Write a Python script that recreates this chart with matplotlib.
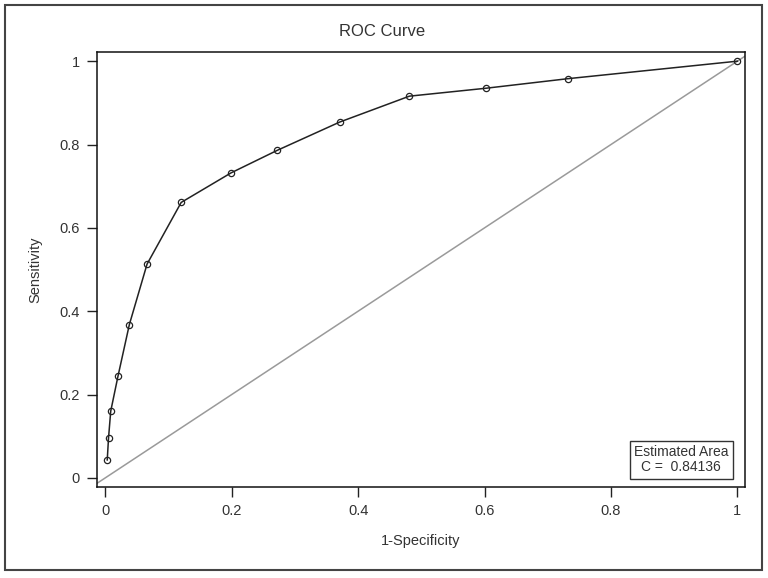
import matplotlib
matplotlib.use("Agg")
import matplotlib.pyplot as plt
from matplotlib.patches import Rectangle

plt.rcParams['font.family'] = ['Liberation Sans', 'DejaVu Sans']

fpr = [0.003, 0.005, 0.0085, 0.020, 0.038, 0.066, 0.120, 0.199, 0.272, 0.371, 0.481, 0.602, 0.732, 1.0]
tpr = [0.043, 0.095, 0.160, 0.244, 0.368, 0.513, 0.661, 0.732, 0.786, 0.854, 0.916, 0.935, 0.958, 1.0]
ticks = [0, 0.2, 0.4, 0.6, 0.8, 1]
tick_labels = ["0", "0.2", "0.4", "0.6", "0.8", "1"]
area_text = "Estimated Area\nC =  0.84136"

W, H = 768, 578
fig = plt.figure(figsize=(W / 100, H / 100), dpi=100)
fig.patch.set_facecolor("white")

# outer frame
fig.patches.append(Rectangle((5 / W, (H - 570) / H), (762 - 5) / W, (570 - 5) / H,
                             transform=fig.transFigure, fill=False,
                             edgecolor="#444444", linewidth=1.5))

L, R, T, B = 96.5, 745, 52, 487
ax = fig.add_axes([L / W, (H - B) / H, (R - L) / W, (B - T) / H])
ax.set_xlim(-0.014, 1.012)
ax.set_ylim(-0.022, 1.022)

ax.plot([-0.1, 1.1], [-0.1, 1.1], color="#9a9a9a", linewidth=1.1, zorder=1)
ax.plot(fpr, tpr, color="#222222", linewidth=1.1, marker="o", markersize=4.5,
        markerfacecolor="none", markeredgecolor="#222222", markeredgewidth=0.9, zorder=3)

ax.set_xticks(ticks)
ax.set_xticklabels(tick_labels)
ax.set_yticks(ticks)
ax.set_yticklabels(tick_labels)
ax.tick_params(direction="out", length=7, width=1, colors="#222222",
               labelsize=10.5, labelcolor="#333333", pad=5)
for s in ax.spines.values():
    s.set_linewidth(1.1)
    s.set_color("#111111")

ax.set_xlabel("1-Specificity", fontsize=10.5, color="#333333", labelpad=12)
ax.set_ylabel("Sensitivity", fontsize=10.5, color="#333333", labelpad=12)
fig.text(382 / W, 1 - 32 / H, "ROC Curve", ha="center", va="center",
         fontsize=12, color="#333333")

ax.text(0.911, 0.043, area_text, ha="center", va="center", fontsize=10,
        color="#333333", linespacing=1.1, transform=ax.transData,
        bbox=dict(boxstyle="square,pad=0.3", facecolor="white",
                  edgecolor="#333333", linewidth=1))

fig.savefig("out.png", dpi=100)
